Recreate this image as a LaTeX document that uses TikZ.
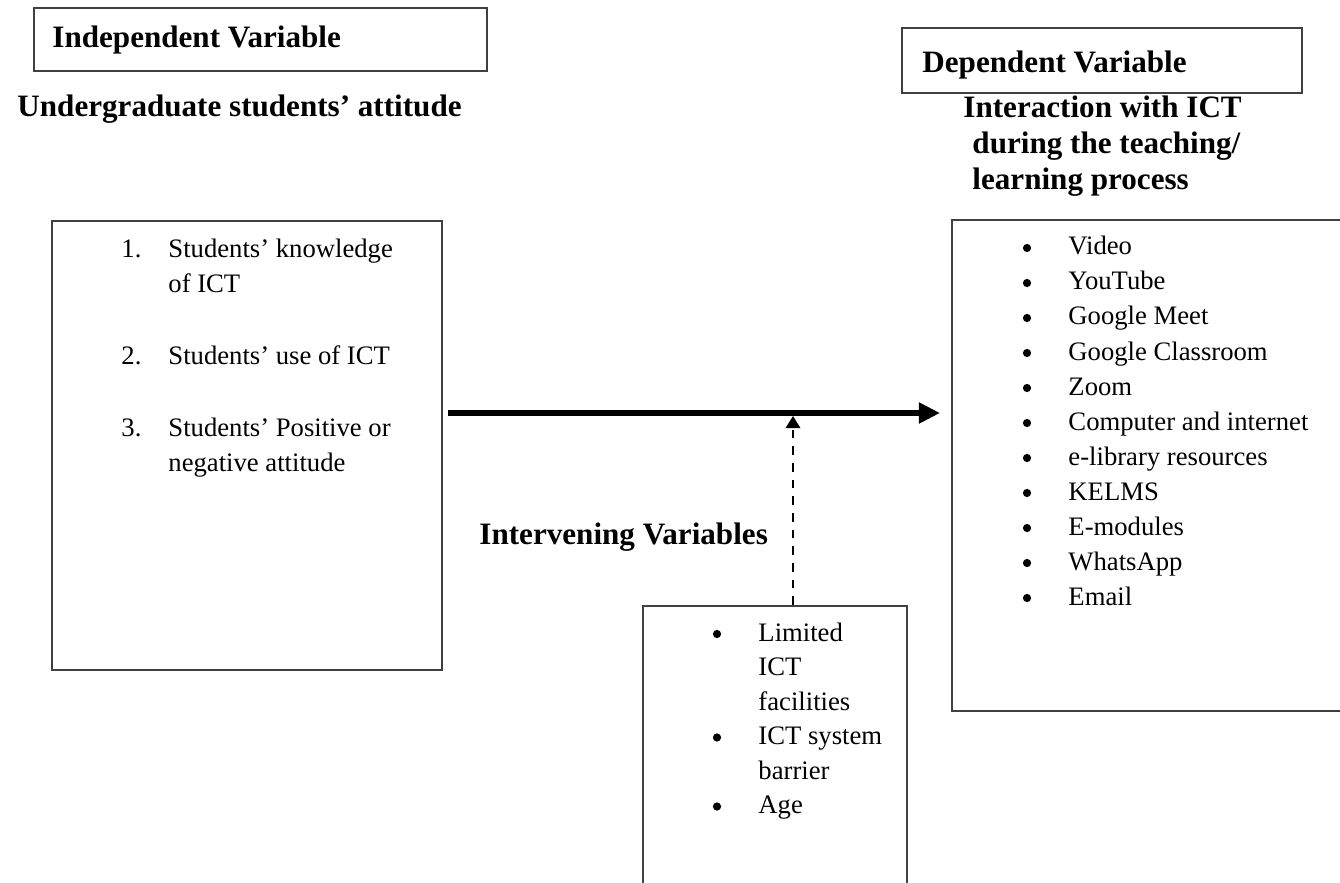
\documentclass[tikz,border=0pt]{standalone}
\usepackage{fontspec}
\setmainfont{Liberation Serif}
\usetikzlibrary{arrows.meta,fit}
\tikzset{
  boxst/.style={draw=black!75, line width=0.8pt, inner sep=0pt},
  head/.style={font=\fontsize{14}{16}\selectfont\bfseries, anchor=base west, inner sep=0pt},
  itemtxt/.style={font=\fontsize{12}{14}\selectfont, anchor=base west, inner sep=0pt},
  bul/.style={circle, fill=black, inner sep=0pt, minimum size=3.7pt},
  mainarrow/.style={line width=2.3pt, -{Triangle[length=9.5pt,width=9pt]}},
  dasharrow/.style={line width=1.1pt, dash pattern=on 4pt off 3.5pt, -{Triangle[length=5.5pt,width=6.5pt]}},
}
\begin{document}
\begin{tikzpicture}[x=0.45pt,y=-0.45pt]
\useasboundingbox (0,0) rectangle (1340,883);
\clip (0,0) rectangle (1340,883);

% Independent variable header
\node[boxst, fit={(34,8) (487,71)}] (indepbox) {};
\node[head] (indeptxt) at (52,48) {Independent Variable};
\node[head] (undergrad) at (17,117) {Undergraduate students’ attitude};

% Dependent variable header
\node[boxst, fit={(902,28) (1302,93)}] (depbox) {};
\node[head] (deptxt) at (922,73) {Dependent Variable};
\node[head] (inter1) at (963,118) {Interaction with ICT};
\node[head] (inter2) at (972,154) {during the teaching/};
\node[head] (inter3) at (972,190) {learning process};

% Left box
\node[boxst, fit={(52,221) (442,670)}] (leftbox) {};
\node[itemtxt] (n1) at (121,258) {1.};
\node[itemtxt] (l1a) at (168,258) {Students’ knowledge};
\node[itemtxt] (l1b) at (168,293) {of ICT};
\node[itemtxt] (n2) at (121,365) {2.};
\node[itemtxt] (l2a) at (168,365) {Students’ use of ICT};
\node[itemtxt] (n3) at (121,436) {3.};
\node[itemtxt] (l3a) at (168,436) {Students’ Positive or};
\node[itemtxt] (l3b) at (168,471) {negative attitude};

% Right box
\node[boxst, fit={(952,220) (1370,711)}] (rightbox) {};
\foreach \t [count=\i from 0] in {Video,YouTube,Google Meet,Google Classroom,Zoom,Computer and internet,e-library resources,KELMS,E-modules,WhatsApp,Email}{
  \node[bul] (rb\i) at (1027,248+35*\i) {};
  \node[itemtxt] (rt\i) at (1068,255+35*\i) {\t};
}

% Intervening variables
\node[head] (intervtxt) at (479,544) {Intervening Variables};
\node[boxst, fit={(643,606) (907,900)}] (intbox) {};
\node[bul] (ib1) at (717,634) {};
\node[itemtxt] (it1a) at (758,641) {Limited};
\node[itemtxt] (it1b) at (758,675.5) {ICT};
\node[itemtxt] (it1c) at (758,710) {facilities};
\node[bul] (ib2) at (717,737.5) {};
\node[itemtxt] (it2a) at (758,744.5) {ICT system};
\node[itemtxt] (it2b) at (758,779) {barrier};
\node[bul] (ib3) at (717,806.5) {};
\node[itemtxt] (it3a) at (758,813.5) {Age};

% Connectors
\coordinate (mstart) at (448,413);
\coordinate (mend) at (940,413);
\draw[mainarrow] (mstart) -- (mend);
\coordinate (dtip) at (793,416);
\draw[dasharrow] (intbox.north -| dtip) -- (dtip);
\end{tikzpicture}
\end{document}
